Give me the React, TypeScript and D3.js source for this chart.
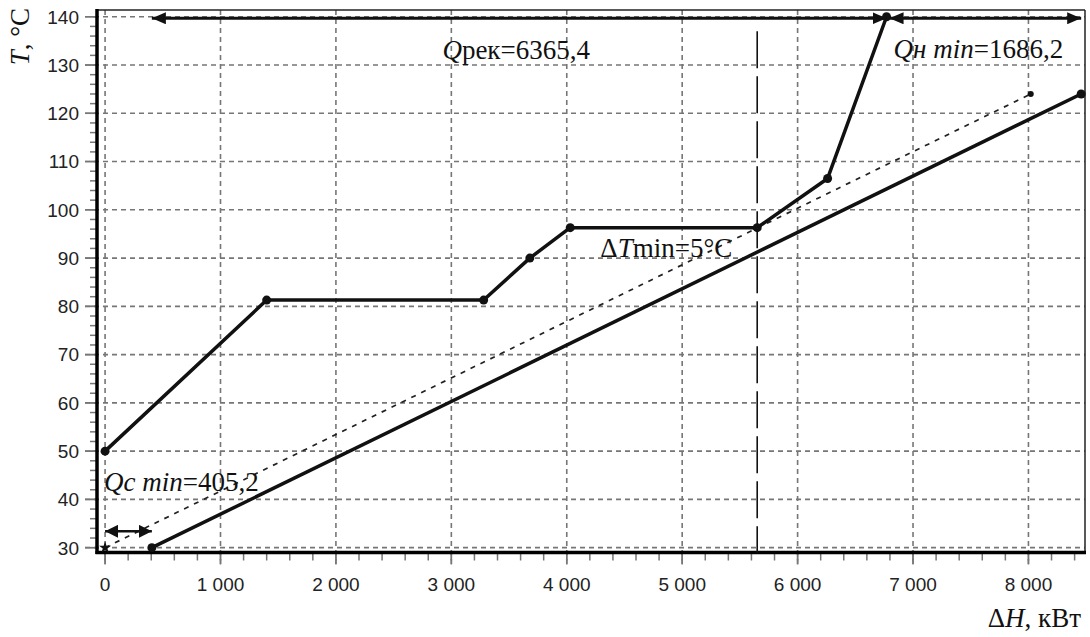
import React, { useEffect, useRef } from 'react';
import * as d3 from 'd3';

// hot composite curve (ΔH, kW ; T, °C)
const hotH = [0, 1400, 3280, 3680, 4030, 5650, 6260, 6770.6];
const hotT = [50, 81.3, 81.3, 90, 96.3, 96.3, 106.5, 140];
// cold composite curve
const coldH = [405.2, 8456.8];
const coldT = [30, 124];
// cold curve shifted to zero
const shiftH = [0, 8020];
const shiftT = [30, 124];

const xTicks = [0, 1000, 2000, 3000, 4000, 5000, 6000, 7000, 8000];
const yTicks = [30, 40, 50, 60, 70, 80, 90, 100, 110, 120, 130, 140];

const qRec = 6365.4;
const qHmin = 1686.2;
const qCmin = 405.2;
const pinchH = 5650;
const pinchTop = 137;
const qCmintT = 33.4;

const W = 1090;
const H = 637;

function App() {
  const ref = useRef<SVGSVGElement>(null);

  useEffect(() => {
    const svg = d3.select(ref.current);
    svg.selectAll('*').remove();

    const left = 97, right = 1085, top = 10, bottom = 552.5;
    const x = d3.scaleLinear().domain([-70, 8490]).range([left, right]);
    const y = d3.scaleLinear().domain([29, 141.4]).range([bottom, top]);

    svg.append('rect').attr('width', W).attr('height', H).attr('fill', '#fff');

    const defs = svg.append('defs');
    defs.append('marker')
      .attr('id', 'arr')
      .attr('viewBox', '0 0 14 12')
      .attr('refX', 14).attr('refY', 6)
      .attr('markerWidth', 14).attr('markerHeight', 12)
      .attr('markerUnits', 'userSpaceOnUse')
      .attr('orient', 'auto-start-reverse')
      .append('path').attr('d', 'M0,0L14,6L0,12Z').attr('fill', '#111');
    defs.append('marker')
      .attr('id', 'arrS')
      .attr('viewBox', '0 0 13 13')
      .attr('refX', 13).attr('refY', 6.5)
      .attr('markerWidth', 13).attr('markerHeight', 13)
      .attr('markerUnits', 'userSpaceOnUse')
      .attr('orient', 'auto-start-reverse')
      .append('path').attr('d', 'M0,0L13,6.5L0,13Z').attr('fill', '#111');

    // grid
    const grid = svg.append('g')
      .attr('stroke', '#767676').attr('stroke-width', 1.6)
      .attr('stroke-dasharray', '5,4');
    grid.selectAll('.vg').data(xTicks).join('line')
      .attr('x1', d => x(d)).attr('x2', d => x(d))
      .attr('y1', top).attr('y2', bottom + 12);
    grid.selectAll('.hg').data(yTicks).join('line')
      .attr('x1', left - 12).attr('x2', right)
      .attr('y1', d => y(d)).attr('y2', d => y(d));

    // minor ticks
    const tk = svg.append('g').attr('stroke', '#777').attr('stroke-width', 1.5);
    tk.selectAll('.mx').data(d3.range(0, 8500, 200)).join('line')
      .attr('x1', d => x(d)).attr('x2', d => x(d))
      .attr('y1', bottom).attr('y2', bottom + 8);
    tk.selectAll('.my').data(d3.range(30, 141, 2)).join('line')
      .attr('x1', left - 7).attr('x2', left)
      .attr('y1', d => y(d)).attr('y2', d => y(d));
    tk.selectAll('.Mx').data(xTicks).join('line')
      .attr('x1', d => x(d)).attr('x2', d => x(d))
      .attr('y1', bottom).attr('y2', bottom + 12);
    tk.selectAll('.My').data(yTicks).join('line')
      .attr('x1', left - 12).attr('x2', left)
      .attr('y1', d => y(d)).attr('y2', d => y(d));

    // frame
    svg.append('line').attr('x1', left).attr('x2', right).attr('y1', top).attr('y2', top)
      .attr('stroke', '#222').attr('stroke-width', 1.5);
    svg.append('line').attr('x1', right).attr('x2', right).attr('y1', top).attr('y2', bottom)
      .attr('stroke', '#222').attr('stroke-width', 1.5);
    svg.append('line').attr('x1', left).attr('x2', left).attr('y1', top - 1).attr('y2', bottom + 1.5)
      .attr('stroke', '#000').attr('stroke-width', 3.5);
    svg.append('line').attr('x1', left - 1.5).attr('x2', right + 1).attr('y1', bottom).attr('y2', bottom)
      .attr('stroke', '#000').attr('stroke-width', 3.5);

    // tick labels
    const sans = "'Liberation Sans', Arial, sans-serif";
    const fmt = (v: number) => d3.format(',')(v).replace(/,/g, ' ');
    svg.append('g').selectAll('text').data(xTicks).join('text')
      .attr('x', d => x(d)).attr('y', bottom + 38)
      .attr('text-anchor', 'middle')
      .style('font-family', sans)
      .attr('font-size', 19).attr('fill', '#222')
      .text(d => fmt(d));
    svg.append('g').selectAll('text').data(yTicks).join('text')
      .attr('x', left - 18).attr('y', d => y(d))
      .attr('dy', '0.36em')
      .attr('text-anchor', 'end')
      .style('font-family', sans)
      .attr('font-size', 19).attr('fill', '#222')
      .text(d => d);

    // pinch line
    svg.append('line')
      .attr('x1', x(pinchH)).attr('x2', x(pinchH))
      .attr('y1', y(pinchTop)).attr('y2', bottom)
      .attr('stroke', '#111').attr('stroke-width', 1.6)
      .attr('stroke-dasharray', '37,8');

    // shifted cold curve (dotted)
    const shift = shiftH.map((h, i) => [h, shiftT[i]] as [number, number]);
    const line = d3.line<[number, number]>().x(d => x(d[0])).y(d => y(d[1]));
    svg.append('path').attr('d', line(shift)!)
      .attr('fill', 'none').attr('stroke', '#222').attr('stroke-width', 1.7)
      .attr('stroke-dasharray', '5,6');
    svg.append('path')
      .attr('d', d3.symbol(d3.symbolStar, 45)()!)
      .attr('transform', `translate(${x(shift[0][0])},${y(shift[0][1])})`)
      .attr('fill', '#111');
    svg.append('circle')
      .attr('cx', x(shift[1][0])).attr('cy', y(shift[1][1])).attr('r', 3).attr('fill', '#111');

    // cold composite
    const cold = coldH.map((h, i) => [h, coldT[i]] as [number, number]);
    svg.append('path').attr('d', line(cold)!)
      .attr('fill', 'none').attr('stroke', '#111').attr('stroke-width', 3.5);
    svg.append('g').selectAll('circle').data(cold).join('circle')
      .attr('cx', d => x(d[0])).attr('cy', d => y(d[1])).attr('r', 4.5).attr('fill', '#111');

    // hot composite
    const hot = hotH.map((h, i) => [h, hotT[i]] as [number, number]);
    svg.append('path').attr('d', line(hot)!)
      .attr('fill', 'none').attr('stroke', '#111').attr('stroke-width', 3.5)
      .attr('stroke-linejoin', 'round');
    svg.append('g').selectAll('circle').data(hot).join('circle')
      .attr('cx', d => x(d[0])).attr('cy', d => y(d[1])).attr('r', 4.5).attr('fill', '#111');

    // arrows
    const hEnd = qCmin + qRec;
    const ay = y(140) + 1.5;
    svg.append('line')
      .attr('x1', x(qCmin)).attr('x2', x(hEnd)).attr('y1', ay).attr('y2', ay)
      .attr('stroke', '#111').attr('stroke-width', 3)
      .attr('marker-start', 'url(#arr)').attr('marker-end', 'url(#arr)');
    svg.append('line')
      .attr('x1', x(hEnd) + 3).attr('x2', x(hEnd + qHmin)).attr('y1', ay).attr('y2', ay)
      .attr('stroke', '#111').attr('stroke-width', 3)
      .attr('marker-start', 'url(#arr)').attr('marker-end', 'url(#arr)');
    svg.append('line')
      .attr('x1', x(0)).attr('x2', x(qCmin)).attr('y1', y(qCmintT)).attr('y2', y(qCmintT))
      .attr('stroke', '#111').attr('stroke-width', 2.5)
      .attr('marker-start', 'url(#arrS)').attr('marker-end', 'url(#arrS)');

    // annotation texts
    const serif = "'Liberation Serif', 'Times New Roman', serif";
    const label = (tx: number, ty: number, parts: [string, boolean][], size: number, anchor = 'start') => {
      const t = svg.append('text').attr('x', tx).attr('y', ty)
        .style('font-family', serif).attr('font-size', size).attr('fill', '#111')
        .attr('text-anchor', anchor);
      parts.forEach(([s, it]) => t.append('tspan').style('font-style', it ? 'italic' : 'normal').text(s));
      return t;
    };
    const num = (v: number) => String(v).replace('.', ',');
    label(x((qCmin + hEnd) / 2) - 3, ay + 41, [['Q', true], ['рек=' + num(qRec), false]], 27, 'middle');
    label(x(hEnd) + 7, ay + 40, [['Qн min', true], ['=' + num(qHmin), false]], 27);
    label(x(0) - 1, y(qCmintT) - 40, [['Qc min', true], ['=' + num(qCmin), false]], 27);
    label(x(pinchH) - 25, y(91.5) + 6, [['Δ', false], ['T', true], ['min=5°C', false]], 27, 'end');

    // axis titles
    label(right - 4, 627, [['Δ', false], ['H', true], [', кВт', false]], 27, 'end');
    label(0, 0, [['T', true], [', °C', false]], 27, 'end')
      .attr('transform', `translate(29,${top - 2}) rotate(-90)`);
  }, []);

  return (
    <svg ref={ref} width={W} height={H} style={{ position: 'absolute', left: 0, top: 0 }} />
  );
}

export default App;
